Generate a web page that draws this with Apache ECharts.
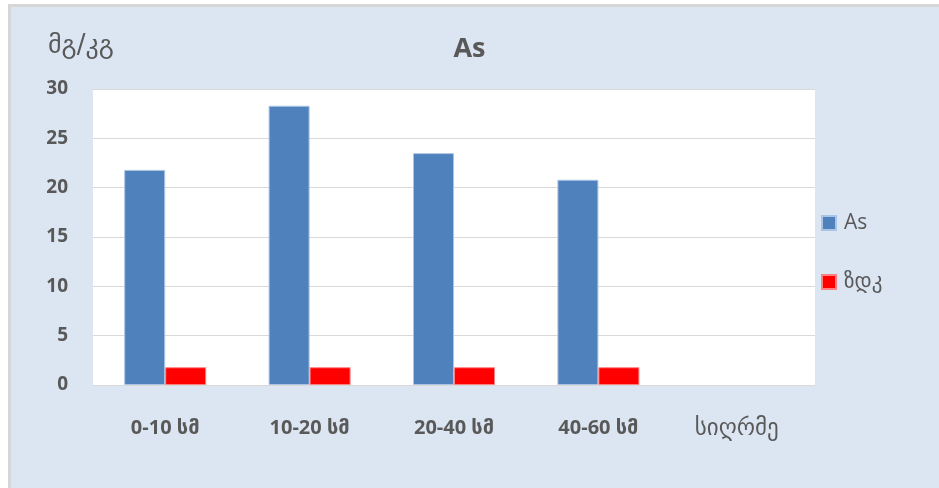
<!DOCTYPE html>
<html>
<head>
<meta charset="utf-8">
<script src="https://cdn.jsdelivr.net/npm/echarts@6/dist/echarts.min.js"></script>
<style>
html,body{margin:0;padding:0;background:#fff;}
#chart{width:939px;height:488px;}
</style>
</head>
<body>
<div id="chart"></div>
<script>
const categories = ['0-10 სმ', '10-20 სმ', '20-40 სმ', '40-60 სმ', 'სიღრმე'];
const asValues = [21.8, 28.3, 23.5, 20.8, null];
const zdkValues = [1.8, 1.8, 1.8, 1.8, null];
const seriesNames = ['As', 'ზდკ'];
const yTicks = { min: 0, max: 30, interval: 5 };

const chart = echarts.init(document.getElementById('chart'), null, { renderer: 'canvas' });
const textColor = '#595959';
const font = "'Open Sans', 'DejaVu Sans', sans-serif";

chart.setOption({
  backgroundColor: '#ffffff',
  animation: false,
  graphic: [{
    type: 'rect',
    z: -10,
    shape: { x: 9.5, y: 5.5, width: 960, height: 520 },
    style: { fill: '#dce6f2', stroke: '#d6d6d6', lineWidth: 3 }
  }],
  title: [{
    text: 'As',
    left: 'center',
    top: 31,
    textStyle: { fontFamily: font, fontSize: 27, fontWeight: 'bold', color: textColor }
  }, {
    text: 'მგ/კგ',
    left: 43,
    top: 28,
    textStyle: { fontFamily: "'DejaVu Sans', sans-serif", fontSize: 26, fontWeight: 'normal', color: textColor }
  }],
  legend: {
    orient: 'vertical',
    left: 816,
    top: 207,
    itemWidth: 14,
    itemHeight: 14,
    itemGap: 37,
    icon: 'rect',
    data: seriesNames,
    textStyle: { fontFamily: font, fontSize: 21, color: textColor, lineHeight: 22, padding: [0, 0, 0, 3] }
  },
  grid: {
    left: 93,
    right: 124,
    top: 89,
    bottom: 103,
    show: true,
    backgroundColor: '#ffffff',
    borderWidth: 0
  },
  xAxis: {
    type: 'category',
    data: categories.map((c, i) => i === categories.length - 1
      ? { value: c, textStyle: { padding: [0, 12, 20, 0], fontFamily: "'DejaVu Sans', sans-serif", fontWeight: 'normal', fontSize: 23 } }
      : c),
    axisLine: { show: true, lineStyle: { color: '#d9d9d9', width: 1 } },
    axisTick: { show: false },
    axisLabel: { margin: 33, fontFamily: font, fontSize: 20, fontWeight: 'bold', color: textColor }
  },
  yAxis: {
    type: 'value',
    min: yTicks.min,
    max: yTicks.max,
    interval: yTicks.interval,
    axisLine: { show: false },
    axisTick: { show: false },
    splitLine: { lineStyle: { color: '#d9d9d9', width: 1 } },
    axisLabel: { margin: 25, fontFamily: font, fontSize: 19, fontWeight: 'bold', color: textColor }
  },
  series: [{
    name: seriesNames[0],
    type: 'bar',
    data: asValues,
    barWidth: 41,
    barGap: '0%',
    itemStyle: { color: '#4f81bd', borderColor: '#a9c4e4', borderWidth: 1 }
  }, {
    name: seriesNames[1],
    type: 'bar',
    data: zdkValues,
    barWidth: 41,
    itemStyle: { color: '#ff0000', borderColor: '#ff8080', borderWidth: 1 }
  }]
});
</script>
</body>
</html>
